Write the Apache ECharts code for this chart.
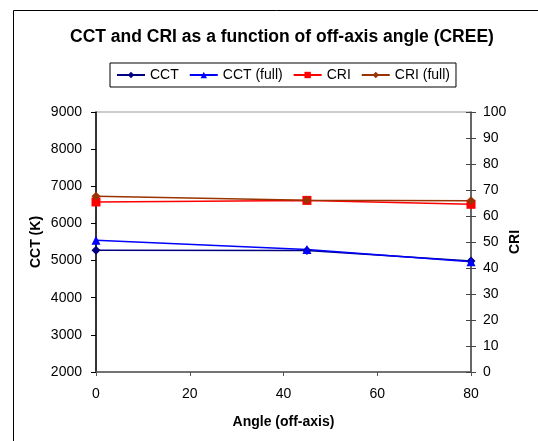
<!DOCTYPE html>
<html>
<head>
<meta charset="utf-8">
<script src="https://cdn.jsdelivr.net/npm/echarts@6/dist/echarts.min.js"></script>
<style>
html,body{margin:0;padding:0;background:#fff;}
#c{width:538px;height:441px;}
</style>
</head>
<body>
<div id="c"></div>
<script>
const angles = [0, 45, 80];
const cct = [5275, 5270, 4990];
const cctFull = [5550, 5295, 4965];
const cri = [65.4, 66.0, 64.5];
const criFull = [67.6, 66.1, 65.9];
const leftTicks = [2000, 9000, 1000];
const rightTicks = [0, 100, 10];
const xTicks = [0, 80, 20];

const pair = (xs, ys) => xs.map((x, i) => [x, ys[i]]);
const FONT = 'Liberation Sans, Arial, sans-serif';

const chart = echarts.init(document.getElementById('c'), null, {renderer: 'canvas'});
chart.setOption({
  animation: false,
  backgroundColor: '#fff',
  title: {
    text: 'CCT and CRI as a function of off-axis angle (CREE)',
    left: 65, top: 23,
    textStyle: {fontFamily: FONT, fontSize: 17.5, fontWeight: 'bold', color: '#000'}
  },
  graphic: [{
    type: 'rect', left: 11, top: 8, shape: {width: 600, height: 500},
    style: {fill: 'none', stroke: '#000', lineWidth: 1}, silent: true, z: -1
  }],
  legend: {
    top: 63, left: 110,
    borderColor: '#000', borderWidth: 1, padding: [5, 6],
    itemWidth: 28, itemHeight: 8, itemGap: 10,
    textStyle: {fontFamily: FONT, fontSize: 14, color: '#000'},
    data: ['CCT', 'CCT (full)', 'CRI', 'CRI (full)']
  },
  grid: {
    left: 96, right: 67, top: 112, bottom: 69,
    show: true, borderColor: '#9a9a9a', borderWidth: 1, backgroundColor: '#fff'
  },
  xAxis: {
    type: 'value', min: xTicks[0], max: xTicks[1], interval: xTicks[2],
    name: 'Angle (off-axis)', nameLocation: 'middle', nameGap: 43, nameMoveOverlap: false,
    nameTextStyle: {fontFamily: FONT, fontSize: 14, fontWeight: 'bold', color: '#000'},
    axisLine: {show: true, lineStyle: {color: '#555', width: 1.5}},
    axisTick: {show: true, length: 4, lineStyle: {color: '#555'}},
    axisLabel: {fontFamily: FONT, fontSize: 14, color: '#000', margin: 15},
    splitLine: {show: false}
  },
  yAxis: [{
    type: 'value', position: 'left', min: leftTicks[0], max: leftTicks[1], interval: leftTicks[2],
    name: 'CCT (K)', nameLocation: 'middle', nameGap: 53, nameRotate: 90, nameMoveOverlap: false,
    nameTextStyle: {fontFamily: FONT, fontSize: 14, fontWeight: 'bold', color: '#000'},
    axisLine: {show: true, lineStyle: {color: '#000', width: 1.5}},
    axisTick: {show: true, length: 5, lineStyle: {color: '#000'}},
    axisLabel: {fontFamily: FONT, fontSize: 14, color: '#000', margin: 14, formatter: v => String(v)},
    splitLine: {show: false}
  }, {
    type: 'value', position: 'right', min: rightTicks[0], max: rightTicks[1], interval: rightTicks[2],
    name: 'CRI', nameLocation: 'middle', nameGap: 37, nameRotate: 90, nameMoveOverlap: false,
    nameTextStyle: {fontFamily: FONT, fontSize: 14, fontWeight: 'bold', color: '#000'},
    axisLine: {show: true, lineStyle: {color: '#444', width: 1.5}},
    axisTick: {show: true, length: 5, lineStyle: {color: '#444'}},
    axisLabel: {fontFamily: FONT, fontSize: 14, color: '#000', margin: 12, formatter: v => String(v)},
    splitLine: {show: false}
  }, {
    type: 'value', position: 'right', min: rightTicks[0], max: rightTicks[1], interval: rightTicks[2],
    axisLine: {show: false},
    axisTick: {show: true, inside: true, length: 5, lineStyle: {color: '#444'}},
    axisLabel: {show: false},
    splitLine: {show: false}
  }],
  series: [{
    name: 'CCT', type: 'line', yAxisIndex: 0, data: pair(angles, cct),
    symbol: 'diamond', symbolSize: 9, color: '#000080',
    lineStyle: {width: 1.5, color: '#000080'}, itemStyle: {color: '#000080'}
  }, {
    name: 'CCT (full)', type: 'line', yAxisIndex: 0, data: pair(angles, cctFull),
    symbol: 'triangle', symbolSize: 9, color: '#0000ff',
    lineStyle: {width: 1.5, color: '#0000ff'}, itemStyle: {color: '#0000ff'}
  }, {
    name: 'CRI', type: 'line', yAxisIndex: 1, data: pair(angles, cri),
    symbol: 'rect', symbolSize: 9, color: '#ff0000',
    lineStyle: {width: 1.5, color: '#ff0000'}, itemStyle: {color: '#ff0000'}
  }, {
    name: 'CRI (full)', type: 'line', yAxisIndex: 1, data: pair(angles, criFull),
    symbol: 'diamond', symbolSize: 9, color: '#993300',
    lineStyle: {width: 1.5, color: '#993300'}, itemStyle: {color: '#993300'}
  }]
});
</script>
</body>
</html>
